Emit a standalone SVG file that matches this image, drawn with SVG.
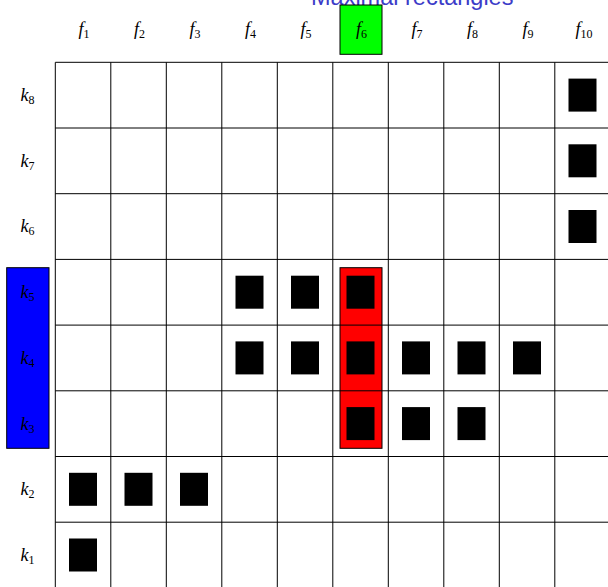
<svg xmlns="http://www.w3.org/2000/svg" width="608" height="587" viewBox="0 0 608 587">
<style>
.lbl{font-family:"Liberation Serif","DejaVu Serif",serif;font-size:18px;fill:#000}
.m{font-style:italic}
.sub{font-size:12px}
.cell{fill:#000}
.grid line{stroke:#000;stroke-width:1}
.title{font-family:"Liberation Sans",Arial,sans-serif;font-size:23.5px;fill:#3c3cc8}
</style>
<rect x="0" y="0" width="608" height="587" fill="#fff"/>
<text class="title" x="311" y="5">Maximal rectangles</text>
<g id="rect-f6"><rect x="340" y="267.7" width="42" height="180.6" fill="#ff0000" stroke="#000" stroke-width="1"/></g>
<g id="rect-k"><rect x="6.7" y="267.7" width="42.3" height="180.6" fill="#0000ff" stroke="#000" stroke-width="1"/></g>
<g id="head-f6"><rect x="340" y="5" width="42" height="49.3" fill="#00ff00" stroke="#000" stroke-width="1"/></g>
<g id="grid" class="grid">
<line x1="55.3" y1="62.3" x2="55.3" y2="587"/>
<line x1="110.8" y1="62.3" x2="110.8" y2="587"/>
<line x1="166.3" y1="62.3" x2="166.3" y2="587"/>
<line x1="221.8" y1="62.3" x2="221.8" y2="587"/>
<line x1="277.3" y1="62.3" x2="277.3" y2="587"/>
<line x1="332.8" y1="62.3" x2="332.8" y2="587"/>
<line x1="388.3" y1="62.3" x2="388.3" y2="587"/>
<line x1="443.8" y1="62.3" x2="443.8" y2="587"/>
<line x1="499.3" y1="62.3" x2="499.3" y2="587"/>
<line x1="554.8" y1="62.3" x2="554.8" y2="587"/>
<line x1="55.3" y1="62.3" x2="608" y2="62.3"/>
<line x1="55.3" y1="128" x2="608" y2="128"/>
<line x1="55.3" y1="193.7" x2="608" y2="193.7"/>
<line x1="55.3" y1="259.4" x2="608" y2="259.4"/>
<line x1="55.3" y1="325.1" x2="608" y2="325.1"/>
<line x1="55.3" y1="390.8" x2="608" y2="390.8"/>
<line x1="55.3" y1="456.5" x2="608" y2="456.5"/>
<line x1="55.3" y1="522.2" x2="608" y2="522.2"/>
</g>
<g id="cells">
<rect class="cell" x="568.5" y="78.6" width="28" height="33"/>
<rect class="cell" x="568.5" y="144.3" width="28" height="33"/>
<rect class="cell" x="568.5" y="210" width="28" height="33"/>
<rect class="cell" x="235.5" y="275.7" width="28" height="33"/>
<rect class="cell" x="291" y="275.7" width="28" height="33"/>
<rect class="cell" x="346.5" y="275.7" width="28" height="33"/>
<rect class="cell" x="235.5" y="341.4" width="28" height="33"/>
<rect class="cell" x="291" y="341.4" width="28" height="33"/>
<rect class="cell" x="346.5" y="341.4" width="28" height="33"/>
<rect class="cell" x="402" y="341.4" width="28" height="33"/>
<rect class="cell" x="457.5" y="341.4" width="28" height="33"/>
<rect class="cell" x="513" y="341.4" width="28" height="33"/>
<rect class="cell" x="346.5" y="407.1" width="28" height="33"/>
<rect class="cell" x="402" y="407.1" width="28" height="33"/>
<rect class="cell" x="457.5" y="407.1" width="28" height="33"/>
<rect class="cell" x="69" y="472.8" width="28" height="33"/>
<rect class="cell" x="124.5" y="472.8" width="28" height="33"/>
<rect class="cell" x="180" y="472.8" width="28" height="33"/>
<rect class="cell" x="69" y="538.5" width="28" height="33"/>
</g>
<g id="col-labels" class="lbl" text-anchor="middle">
<text x="84" y="35"><tspan class="m">f</tspan><tspan class="sub" dy="3">1</tspan></text>
<text x="139.5" y="35"><tspan class="m">f</tspan><tspan class="sub" dy="3">2</tspan></text>
<text x="195" y="35"><tspan class="m">f</tspan><tspan class="sub" dy="3">3</tspan></text>
<text x="250.5" y="35"><tspan class="m">f</tspan><tspan class="sub" dy="3">4</tspan></text>
<text x="306" y="35"><tspan class="m">f</tspan><tspan class="sub" dy="3">5</tspan></text>
<text x="361.5" y="35"><tspan class="m">f</tspan><tspan class="sub" dy="3">6</tspan></text>
<text x="417" y="35"><tspan class="m">f</tspan><tspan class="sub" dy="3">7</tspan></text>
<text x="472.5" y="35"><tspan class="m">f</tspan><tspan class="sub" dy="3">8</tspan></text>
<text x="528" y="35"><tspan class="m">f</tspan><tspan class="sub" dy="3">9</tspan></text>
<text x="584" y="35"><tspan class="m">f</tspan><tspan class="sub" dy="3">10</tspan></text>
</g>
<g id="row-labels" class="lbl" text-anchor="middle">
<text x="27.5" y="101"><tspan class="m">k</tspan><tspan class="sub" dy="3">8</tspan></text>
<text x="27.5" y="166.7"><tspan class="m">k</tspan><tspan class="sub" dy="3">7</tspan></text>
<text x="27.5" y="232.4"><tspan class="m">k</tspan><tspan class="sub" dy="3">6</tspan></text>
<text x="27.5" y="298.1"><tspan class="m">k</tspan><tspan class="sub" dy="3">5</tspan></text>
<text x="27.5" y="363.8"><tspan class="m">k</tspan><tspan class="sub" dy="3">4</tspan></text>
<text x="27.5" y="429.5"><tspan class="m">k</tspan><tspan class="sub" dy="3">3</tspan></text>
<text x="27.5" y="495.2"><tspan class="m">k</tspan><tspan class="sub" dy="3">2</tspan></text>
<text x="27.5" y="560.9"><tspan class="m">k</tspan><tspan class="sub" dy="3">1</tspan></text>
</g>
</svg>
